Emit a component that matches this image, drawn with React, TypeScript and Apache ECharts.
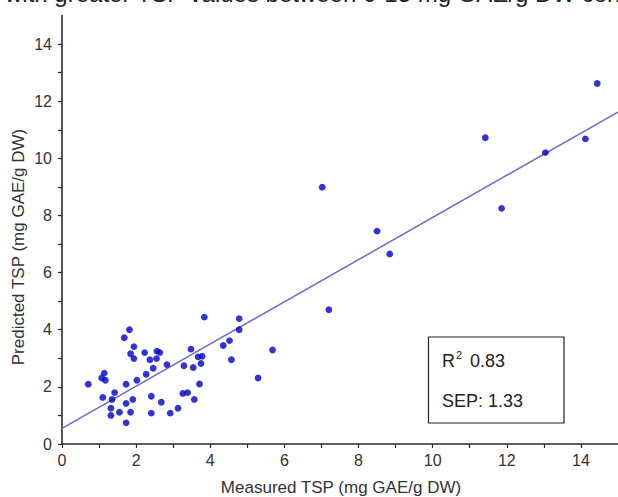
import React, { useEffect, useRef } from "react";
import * as echarts from "echarts";

const measured = [
  0.71, 1.07, 1.14, 1.17, 1.10, 1.35, 1.42, 1.32, 1.32, 1.55,
  1.73, 1.73, 1.73, 1.85, 1.91, 1.68, 1.82, 1.94, 1.85, 1.94,
  2.02, 2.23, 2.37, 2.27, 2.56, 2.64, 2.55, 2.46, 2.41, 2.41,
  2.68, 2.83, 2.92, 3.13, 3.29, 3.26, 3.39, 3.48, 3.54, 3.57,
  3.71, 3.67, 3.78, 3.75, 3.84, 4.35, 4.52, 4.57, 4.78, 4.78,
  5.29, 5.68, 7.02, 7.20, 8.50, 8.84, 11.42, 11.86, 13.04, 14.12,
  14.44,
];
const predicted = [
  2.09, 2.31, 2.48, 2.23, 1.63, 1.56, 1.80, 1.25, 1.00, 1.11,
  2.09, 1.42, 0.74, 1.11, 1.56, 3.72, 4.00, 3.41, 3.16, 2.99,
  2.23, 3.20, 2.95, 2.44, 3.25, 3.20, 2.99, 2.65, 1.67, 1.08,
  1.46, 2.78, 1.08, 1.25, 2.74, 1.77, 1.80, 3.32, 2.68, 1.56,
  2.10, 3.05, 3.07, 2.82, 4.44, 3.45, 3.62, 2.95, 4.39, 4.00,
  2.31, 3.29, 8.99, 4.70, 7.45, 6.65, 10.72, 8.25, 10.20, 10.68,
  12.62,
];
const fitX = [0, 15];
const fitY = [0.55, 11.62];
const xTickLabels = [0, 2, 4, 6, 8, 10, 12, 14];
const yTickLabels = [0, 2, 4, 6, 8, 10, 12, 14];
const tickValues = [0, 1, 2, 3, 4, 5, 6, 7, 8, 9, 10, 11, 12, 13, 14];
const r2Text = "0.83";
const sepText = "SEP: 1.33";
const xTitle = "Measured TSP (mg GAE/g DW)";
const yTitle = "Predicted TSP (mg GAE/g DW)";
const topText = "with greater TSP values between 0-15 mg GAE/g DW con";

export default function App() {
  const ref = useRef<HTMLDivElement>(null);
  useEffect(() => {
    if (!ref.current) return;
    const chart = echarts.init(ref.current, null, { renderer: "svg" });
    const font = "Liberation Sans, Arial, sans-serif";
    const axisCommon = {
      type: "value",
      min: 0,
      max: 15,
      interval: 1,
      splitLine: { show: false },
      axisLine: { show: true, lineStyle: { color: "#2a2a2a", width: 1.6 } },
      axisTick: {
        show: true,
        inside: false,
        length: 4,
        customValues: tickValues,
        lineStyle: { color: "#2a2a2a", width: 1.2 },
      },
    };
    chart.setOption({
      animation: false,
      grid: { left: 62, right: -2, top: 15.5, bottom: 53, containLabel: false },
      xAxis: {
        ...axisCommon,
        axisLabel: {
          customValues: xTickLabels,
          color: "#333",
          fontSize: 16,
          fontFamily: font,
          margin: 8,
        },
      },
      yAxis: {
        ...axisCommon,
        axisLabel: {
          customValues: yTickLabels,
          color: "#333",
          fontSize: 16,
          fontFamily: font,
          margin: 10,
        },
      },
      series: [
        {
          type: "line",
          data: fitX.map((x, i) => [x, fitY[i]]),
          showSymbol: false,
          symbol: "none",
          lineStyle: { color: "#6a6ad0", width: 1.5 },
          z: 1,
        },
        {
          type: "scatter",
          data: measured.map((x, i) => [x, predicted[i]]),
          symbolSize: 6.8,
          itemStyle: { color: "#0000c8" },
          z: 2,
        },
      ],
      graphic: [
        {
          type: "text",
          left: 5,
          top: -19,
          style: {
            text: topText,
            fontSize: 24,
            fontFamily: font,
            fill: "#222",
          },
        },
        {
          type: "text",
          x: 18,
          y: 247,
          rotation: Math.PI / 2,
          style: {
            text: yTitle,
            fontSize: 17,
            fontFamily: font,
            fill: "#333",
            align: "center",
            verticalAlign: "middle",
          },
        },
        {
          type: "text",
          x: 341,
          y: 487,
          style: {
            text: xTitle,
            fontSize: 17,
            fontFamily: font,
            fill: "#333",
            align: "center",
            verticalAlign: "middle",
          },
        },
        {
          type: "rect",
          shape: { x: 428.5, y: 337, width: 135.5, height: 86 },
          style: { fill: "#fff", stroke: "#222", lineWidth: 1.2 },
          z: 10,
        },
        {
          type: "text",
          x: 442,
          y: 361,
          z: 11,
          style: {
            text: "R",
            fontSize: 18,
            fontFamily: font,
            fill: "#222",
            verticalAlign: "middle",
          },
        },
        {
          type: "text",
          x: 456,
          y: 355,
          z: 11,
          style: {
            text: "2",
            fontSize: 11,
            fontFamily: font,
            fill: "#222",
            verticalAlign: "middle",
          },
        },
        {
          type: "text",
          x: 470,
          y: 361,
          z: 11,
          style: {
            text: r2Text,
            fontSize: 18,
            fontFamily: font,
            fill: "#222",
            verticalAlign: "middle",
          },
        },
        {
          type: "text",
          x: 442,
          y: 400.5,
          z: 11,
          style: {
            text: sepText,
            fontSize: 18,
            fontFamily: font,
            fill: "#222",
            verticalAlign: "middle",
          },
        },
      ],
    });
    return () => chart.dispose();
  }, []);
  return (
    <div
      ref={ref}
      style={{ position: "fixed", left: 0, top: 0, width: 618, height: 497, background: "#fff" }}
    />
  );
}
